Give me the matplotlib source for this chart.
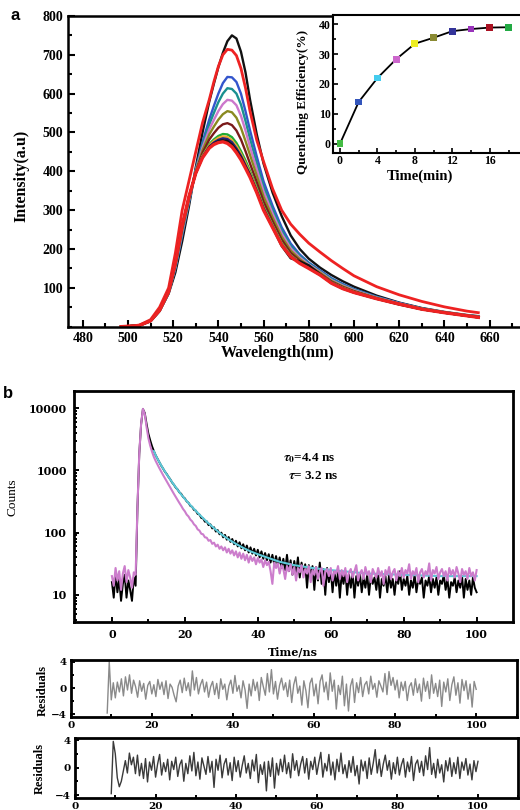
import numpy as np
import matplotlib.pyplot as plt
from matplotlib.ticker import MultipleLocator, LogLocator, NullFormatter, FixedLocator, FixedFormatter

plt.rcParams['font.family'] = ['Liberation Serif', 'DejaVu Serif']
plt.rcParams['font.weight'] = 'bold'
plt.rcParams['mathtext.fontset'] = 'stix'
plt.rcParams['xtick.direction'] = 'in'
plt.rcParams['ytick.direction'] = 'in'

# ---- panel a: emission spectra ----
wl = [497, 500, 505, 510, 514, 518, 521, 524, 527, 530, 533, 536, 538, 540, 542, 544, 546,
      548, 550, 552, 554, 557, 560, 564, 568, 572, 576, 580, 585, 590, 595, 600, 610, 620,
      630, 640, 650, 655]

spec_black1 = [0, 1, 3, 14, 40, 85, 140, 220, 310, 410, 500, 580, 625, 668, 705, 735, 750,
               742, 708, 655, 585, 495, 420, 345, 285, 235, 200, 175, 152, 133, 117, 103, 80,
               62, 48, 38, 30, 27]
spec_red1 = [0, 1, 4, 18, 50, 100, 190, 300, 375, 450, 525, 585, 630, 670, 700, 714, 712,
             698, 665, 615, 555, 480, 425, 355, 300, 264, 238, 215, 192, 170, 150, 131, 103,
             82, 65, 51, 40, 36]
spec_blue = [0, 1, 3, 14, 41, 87, 150, 235, 320, 404, 475, 534, 568, 600, 627, 643, 642,
             630, 600, 555, 506, 438, 374, 311, 256, 214, 186, 165, 145, 125, 110, 97, 77, 61,
             47, 37, 29, 26]
spec_teal = [0, 1, 3, 14, 41, 87, 152, 240, 322, 403, 468, 521, 550, 578, 600, 614, 612,
             600, 572, 530, 484, 421, 361, 301, 248, 208, 182, 163, 143, 123, 108, 96, 76, 60,
             47, 37, 29, 26]
spec_violet = [0, 1, 3, 15, 41, 88, 155, 244, 325, 401, 461, 508, 532, 555, 573, 584, 582,
               570, 543, 505, 463, 405, 348, 291, 240, 202, 178, 160, 141, 120, 106, 94, 75,
               60, 46, 37, 29, 25]
spec_olive = [0, 1, 3, 15, 41, 88, 158, 248, 328, 399, 454, 495, 515, 533, 547, 555, 552,
              538, 512, 478, 442, 389, 335, 281, 232, 196, 174, 157, 139, 118, 104, 92, 74,
              59, 46, 37, 29, 25]
spec_maroon = [0, 1, 3, 15, 42, 89, 160, 253, 330, 398, 447, 482, 498, 512, 521, 524, 519,
               505, 482, 452, 420, 372, 322, 271, 224, 190, 170, 155, 136, 116, 102, 91, 73,
               59, 45, 36, 28, 25]
spec_green = [0, 1, 3, 15, 42, 90, 163, 257, 333, 396, 440, 470, 482, 491, 496, 495, 488,
              473, 452, 428, 401, 357, 310, 262, 216, 184, 166, 152, 134, 114, 100, 89, 73,
              58, 45, 36, 28, 24]
spec_orange = [0, 1, 3, 15, 42, 90, 163, 258, 334, 396, 439, 467, 478, 486, 490, 488, 480,
               465, 445, 421, 396, 353, 307, 260, 214, 183, 165, 151, 134, 113, 100, 89, 72,
               58, 45, 36, 28, 24]
spec_navy = [0, 1, 3, 15, 42, 90, 164, 259, 334, 395, 437, 464, 474, 481, 485, 483, 475,
             459, 440, 416, 392, 350, 305, 258, 212, 182, 164, 151, 133, 113, 99, 88, 72, 58,
             45, 36, 28, 24]
spec_black2 = [0, 1, 3, 15, 42, 90, 165, 259, 335, 395, 436, 462, 471, 477, 480, 478, 469,
               454, 435, 412, 389, 347, 302, 256, 208, 176, 168, 158, 135, 112, 98, 88, 72,
               57, 45, 36, 28, 24]
spec_red2 = [0, 1, 3, 15, 42, 90, 165, 260, 335, 395, 435, 460, 469, 474, 476, 472, 463,
             448, 430, 408, 385, 345, 300, 255, 210, 180, 163, 150, 133, 112, 98, 88, 72, 58,
             45, 36, 28, 24]

spectra = [spec_black1, spec_red1, spec_blue, spec_teal, spec_violet, spec_olive, spec_maroon,
           spec_green, spec_orange, spec_navy, spec_black2, spec_red2]
spec_colors = ['#111111', '#ee2222', '#3355cc', '#1a9090', '#cc77cc', '#8a8a20', '#7a1a1a',
               '#22aa33', '#f0a830', '#22227a', '#111111', '#ee2222']
spec_lw = [1.7, 2.0, 1.7, 1.7, 1.7, 1.7, 1.7, 1.7, 1.7, 1.7, 1.7, 2.4]

# inset: quenching efficiency
q_time = [0, 2, 4, 6, 8, 10, 12, 14, 16, 18]
q_eff = [0, 14, 22, 28.3, 33.5, 35.5, 37.7, 38.4, 38.9, 39.0]
q_colors = ['#44bb44', '#3355bb', '#44ccee', '#cc66cc', '#eeee22', '#8a8a33', '#333399',
            '#9933bb', '#aa1122', '#22aa44']

# ---- panel b: decay curves (0.5 ns channels from 0 ns) ----
decay_pink = [20, 14, 27, 17, 24, 12, 22, 29, 16, 25, 19, 13, 23, 21,
              260, 1900, 5600, 9800, 8100, 5000, 3300, 2500, 2000, 1650, 1420, 1240, 1090, 960,
              850, 755, 670, 600, 530, 470, 420, 375, 335, 300, 270, 240, 220, 195, 182, 162,
              152, 136, 128, 113, 108, 96, 94, 84, 83, 74, 76, 66, 69, 60, 64, 55,
              60, 52, 58, 48, 55, 46, 52, 43, 50, 40, 48, 38, 46, 36, 44, 33, 42, 35, 40, 31,
              39, 33, 37, 28, 36, 30, 34, 24, 15, 33, 27, 32, 22, 30, 26, 18, 29, 24, 31, 21,
              28, 17, 27, 23, 30, 19, 26, 22, 29, 16, 25, 21, 28, 18, 24, 27, 14, 23, 26, 20,
              27, 17, 24, 22, 29, 18, 25, 20, 27, 16, 23, 26, 19, 24, 30, 17, 22, 25, 18, 28,
              21, 24, 16, 26, 22, 19, 27, 20, 24, 15, 25, 21, 28, 18, 23, 26, 17, 24, 20, 27,
              19, 25, 22, 31, 18, 24, 21, 27, 16, 23, 26, 19, 24, 21, 32, 17, 25, 22, 28, 18,
              23, 26, 20, 24, 17, 27, 21, 25, 19, 28, 22, 16, 26, 21, 24, 18, 27, 20, 23, 17, 25]
decay_black = [16, 9, 22, 11, 18, 8, 15, 21, 9, 17, 12, 8, 19, 14,
               250, 1850, 5500, 9700, 8400, 5600, 3900, 3050, 2450, 2050, 1750, 1540, 1360, 1200,
               1080, 960, 880, 790, 720, 640, 590, 530, 495, 445, 420, 375, 355, 318, 302, 270,
               260, 232, 226, 200, 196, 172, 170, 150, 152, 132, 136, 117, 122, 104, 110, 94,
               100, 84, 92, 77, 85, 71, 79, 65, 74, 60, 70, 56, 65, 52, 62, 48, 58, 46, 55, 43,
               53, 40, 50, 38, 47, 36, 45, 33, 44, 31, 42, 30, 40, 27, 38, 25, 44, 24, 36, 21,
               35, 23, 40, 19, 33, 22, 31, 13, 30, 20, 29, 12, 28, 17, 33, 15, 26, 10, 27, 16,
               25, 11, 24, 14, 23, 9, 22, 15, 24, 10, 21, 13, 23, 9, 20, 14, 22, 11, 19, 13,
               21, 10, 20, 15, 19, 12, 22, 9, 18, 14, 20, 11, 21, 13, 18, 10, 19, 15, 24, 12,
               18, 14, 20, 10, 17, 13, 21, 11, 18, 15, 19, 9, 17, 14, 20, 11, 18, 13, 19, 10,
               17, 15, 21, 12, 18, 9, 16, 14, 19, 11, 17, 13, 20, 9, 18, 12, 17, 10, 19, 13, 11]

fit_t = [11.5, 12, 13, 14, 15, 16, 17, 18, 19, 20, 22, 24, 26, 28, 30, 32, 34, 36, 38, 40,
         43, 46, 50, 55, 60, 70, 80, 90, 100]
fit_v = [2050, 1750, 1360, 1080, 870, 715, 590, 490, 410, 348, 258, 195, 150, 118, 94, 78,
         66, 57, 50, 45, 39, 34, 30, 27, 25, 22, 21, 20, 20]

# residuals, 0.5 ns channels from 9 ns
resid_1 = [-3.8, 4.0, -1.8, 0.8, -1.5, 0.9, -0.6, 1.4, -1.2, 1.7, -0.3, 2.0, -0.8, 1.2, 0.2, -1.4,
           1.1, -0.5, 0.7, -1.7, 0.4, 1.0, -0.9, 0.5, -1.3, 1.3, -0.2, 0.9, -1.0, 1.1, -1.6, 0.6,
           0.1, -1.1, -2.1, 0.3, 1.2, -0.7, 1.5, -0.4, 0.8, -1.2, 2.6, -0.3, 1.6, -0.9, 0.5, 1.3,
           -0.6, 0.9, -1.4, 0.2, 1.0, -1.0, 0.7, -1.6, 1.4, -0.2, 0.6, -1.8, 0.3, 1.2, -0.8, 1.9,
           -0.5, 0.4, -1.5, 1.1, -0.3, -3.1, 0.6, -1.2, 1.3, -0.4, 0.9, -1.9, 1.6, 0.2, -1.1, 2.2,
           -0.6, 2.8, -0.9, 1.0, -1.7, 0.4, 1.5, -0.3, 0.8, -1.3, 1.2, -2.2, 0.5, 1.7, -0.8, 0.3,
           -2.6, 1.1, -0.4, -3.0, 0.7, 1.5, -1.2, 0.6, -2.4, 1.0, 2.0, -0.6, 0.9, -1.8, 2.3, -0.5,
           1.2, -3.2, 0.4, -1.0, 1.8, -2.7, 0.6, -3.5, 0.3, 1.4, -2.2, 0.8, -0.7, 1.6, -1.3, 0.5,
           1.0, -0.9, 1.8, -0.2, 0.7, -1.4, 1.1, 0.3, -0.6, 2.2, -1.0, 2.5, 0.4, 1.6, -0.3, 1.2,
           -1.5, 0.9, -0.4, 1.0, -1.9, 0.2, 0.8, -1.1, 1.4, -0.7, 0.6, -2.0, 1.5, -0.5, 1.0, -1.6,
           2.0, -0.8, 0.7, -1.3, 1.2, -2.8, 0.9, -0.6, 1.4, -1.9, 0.5, 1.7, -1.1, 0.8, -2.3, 1.3,
           -0.4, 1.1, -1.7, 0.6, -2.9, 1.0, -0.2]
resid_2 = [-3.8, 3.8, 2.0, -1.5, -2.8, -2.0, -0.5, 1.0, -0.8, 2.1, 0.4, 1.5, -0.9, 1.8, -1.2, 0.6,
           -1.6, 1.3, -2.1, 0.8, -0.4, 1.6, -1.4, 0.5, 1.9, -1.1, 0.7, -0.6, 1.2, -1.8, 0.9, -0.3,
           1.5, -1.3, 0.4, 1.1, -2.0, 0.6, -0.9, 1.7, -0.5, 2.2, -1.2, 0.8, -1.7, 1.4, 0.2, -1.0,
           1.6, -0.7, 0.9, -2.9, 1.2, -0.4, 1.8, -1.5, 0.5, 1.3, -1.1, 0.7, -1.9, 1.5, -0.6, 1.0,
           -1.4, 0.3, 1.7, -0.8, 0.6, -1.6, 1.1, -0.5, 1.9, -2.2, 0.4, -1.0, 0.8, -3.4, 0.9, -1.3,
           1.4, -3.0, 0.6, -1.1, 1.2, -0.6, 1.8, -0.9, 0.7, -1.5, 2.0, -0.4, 1.0, -1.2, 0.5, 1.6,
           -0.8, 1.3, -1.7, 0.9, -0.3, 1.5, -1.0, 0.7, 2.2, -1.4, 0.6, -0.5, 1.9, -1.1, 0.8, -1.8,
           1.2, -0.6, 2.1, -0.9, 0.4, -1.5, 1.0, -0.7, 1.6, -1.2, 0.3, -2.4, 1.1, -0.5, 0.9, -1.6,
           1.4, -1.0, 0.6, 2.6, -0.8, 1.2, -1.3, 0.5, 1.8, -0.4, 1.0, -1.7, 0.7, -0.9, 1.5, -1.1,
           0.4, 1.3, -1.4, 0.8, -0.6, 1.6, -1.9, 0.5, 1.1, -0.7, 0.9, -1.2, 1.7, -0.3, 2.9, -1.0,
           0.6, -1.5, 1.2, -0.8, 0.4, -2.1, 1.0, -0.5, 1.4, -1.3, 0.7, -0.9, 1.5, -1.6, 0.8, -0.4,
           1.3, -1.1, 0.5, -1.8, 1.0, -0.6, 0.9]


def px(x, y):
    return x / 520.0, 1 - y / 810.0


fig = plt.figure(figsize=(5.2, 8.1), dpi=100)

# ---------- panel a ----------
ax = fig.add_axes([0.1308, 0.5967, 0.876, 0.3836])
for s, c, lw in zip(spectra, spec_colors, spec_lw):
    ax.plot(wl, s, color=c, lw=lw, solid_joinstyle='round')
ax.set_xlim(473.5, 675)
ax.set_ylim(0, 800)
ax.set_xticks(np.arange(480, 661, 20))
ax.xaxis.set_minor_locator(MultipleLocator(10))
ax.set_yticks(np.arange(100, 801, 100))
ax.yaxis.set_minor_locator(MultipleLocator(50))
ax.tick_params(which='both', top=False, right=False, width=1.5, labelsize=10, pad=3.5)
ax.tick_params(which='major', length=5)
ax.tick_params(which='minor', length=3)
for sp in ax.spines.values():
    sp.set_linewidth(1.8)
fig.text(*px(278, 353), 'Wavelength(nm)', ha='center', va='center', fontsize=11.5)
fig.text(*px(21, 176), 'Intensity(a.u)', ha='center', va='center', fontsize=11.5, rotation=90)
fig.text(*px(15, 15), 'a', ha='center', va='center', fontsize=12,
         family=['Liberation Sans', 'DejaVu Sans'])

axi = fig.add_axes([0.641, 0.8115, 0.391, 0.1696])
axi.plot(q_time, q_eff, color='black', lw=1.3, zorder=2)
axi.scatter(q_time, q_eff, c=q_colors, marker='s', s=24, zorder=3, linewidths=0)
axi.set_xlim(-0.71, 21)
axi.set_ylim(-3, 43)
axi.set_xticks([0, 4, 8, 12, 16, 20])
axi.xaxis.set_minor_locator(MultipleLocator(2))
axi.set_yticks([0, 10, 20, 30, 40])
axi.yaxis.set_minor_locator(MultipleLocator(5))
axi.tick_params(which='both', top=False, right=False, width=1.2, labelsize=8.5, pad=2)
axi.tick_params(which='major', length=3.5)
axi.tick_params(which='minor', length=2)
for sp in axi.spines.values():
    sp.set_linewidth(1.5)
fig.text(*px(420, 176), 'Time(min)', ha='center', va='center', fontsize=10.5)
fig.text(*px(303, 102), 'Quenching Efficiency(%)', ha='center', va='center', fontsize=9.5,
         rotation=90)

# ---------- panel b ----------
serif_b = ['DejaVu Serif']
axb = fig.add_axes([0.1423, 0.2325, 0.8437, 0.2852])
t_black = 0.5 * np.arange(len(decay_black))
t_pink = 0.5 * np.arange(len(decay_pink))
axb.plot(t_black, decay_black, color='black', lw=1.4)
axb.plot(fit_t, fit_v, color='#5cc8d8', lw=1.5)
axb.plot(t_pink, decay_pink, color='#cc7dcc', lw=1.5)
axb.set_yscale('log')
axb.set_xlim(-10.4, 109.9)
axb.set_ylim(3.7, 19200)
axb.yaxis.set_major_locator(FixedLocator([10, 100, 1000, 10000]))
axb.yaxis.set_major_formatter(FixedFormatter(['10', '100', '1000', '10000']))
axb.yaxis.set_minor_locator(LogLocator(base=10, subs=np.arange(2, 10)))
axb.yaxis.set_minor_formatter(NullFormatter())
axb.set_xticks(np.arange(0, 101, 20))
axb.xaxis.set_minor_locator(MultipleLocator(10))
axb.tick_params(which='both', top=False, right=False, width=1.4, labelsize=8, pad=5)
axb.tick_params(which='major', length=3.5)
axb.tick_params(which='minor', length=2.5)
for lab in axb.get_xticklabels() + axb.get_yticklabels():
    lab.set_family(serif_b)
for sp in axb.spines.values():
    sp.set_linewidth(2.0)
axb.text(0.476, 0.708, r'$\tau_0$=4.4 ns', transform=axb.transAxes, fontsize=9.5,
         va='center', ha='left')
axb.text(0.488, 0.632, r'$\tau$= 3.2 ns', transform=axb.transAxes, fontsize=9.5,
         va='center', ha='left')
fig.text(*px(293, 652), 'Time/ns', ha='center', va='center', fontsize=8, family=serif_b)
fig.text(*px(13, 497), 'Counts', ha='center', va='center', fontsize=9.5, rotation=90,
         weight='normal')
fig.text(*px(8, 393), 'b', ha='center', va='center', fontsize=12,
         family=['Liberation Sans', 'DejaVu Sans'])

# residual panels
res_axes = [fig.add_axes([0.136, 0.1152, 0.8577, 0.070]),
            fig.add_axes([0.1442, 0.01444, 0.8525, 0.0741])]
res_data = [resid_1, resid_2]
res_colors = ['#8a8a8a', '#3a3a3a']
res_ylims = [(-4.36, 4.26), (-4.48, 4.25)]
res_label_x = [42.7, 40]
res_label_y = [690, 768]
for axr, r, c, yl, lx, ly in zip(res_axes, res_data, res_colors, res_ylims, res_label_x,
                                 res_label_y):
    tr = 9 + 0.5 * np.arange(len(r))
    axr.plot(tr, r, color=c, lw=1.0)
    axr.set_xlim(0, 110)
    axr.set_ylim(*yl)
    axr.set_xticks(np.arange(0, 101, 20))
    axr.xaxis.set_minor_locator(MultipleLocator(10))
    axr.set_yticks([-4, 0, 4])
    axr.yaxis.set_minor_locator(MultipleLocator(2))
    axr.tick_params(which='both', top=False, right=False, width=1.4, labelsize=7.5, pad=3)
    axr.tick_params(which='major', length=3)
    axr.tick_params(which='minor', length=2)
    for lab in axr.get_xticklabels() + axr.get_yticklabels():
        lab.set_family(serif_b)
    for sp in axr.spines.values():
        sp.set_linewidth(2.0)
    fig.text(*px(lx, ly), 'Residuals', ha='center', va='center', fontsize=9, rotation=90)

fig.savefig('out.png', dpi=100)
